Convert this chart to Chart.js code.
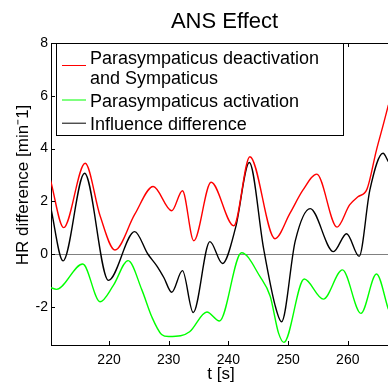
<!DOCTYPE html>
<html>
<head>
<meta charset="utf-8">
<script src="https://cdn.jsdelivr.net/npm/chart.js@4.4.1/dist/chart.umd.min.js"></script>
<style>
  html, body { margin: 0; padding: 0; overflow: hidden; background: #fff; }
  #wrap { width: 398px; height: 383px; }
</style>
</head>
<body>
<div id="wrap"><canvas id="ans"></canvas></div>
<script>
// values (t in s, HR difference in 1/min)
const redT = [210.2, 212.4, 216.0, 218.5, 221.0, 224.3, 227.4, 230.5, 232.3, 234.2, 237.1, 240.9, 243.6, 247.8, 250.3, 252.5, 254.8, 258.2, 260.3, 261.7, 263.2, 264.8, 266.0, 266.8];
const redV = [2.8, 1.0, 3.44, 1.45, 0.15, 1.5, 2.56, 1.64, 2.4, 0.5, 2.72, 1.07, 3.69, 0.58, 1.54, 2.43, 3.03, 1.02, 1.86, 2.17, 2.45, 3.94, 4.95, 5.65];

const blackT = [210.2, 212.3, 215.9, 219.9, 224.3, 226.5, 228.0, 229.2, 230.5, 232.3, 234.1, 236.9, 239.0, 241.2, 243.5, 245.9, 247.8, 248.9, 251.2, 253.7, 257.6, 259.8, 261.9, 263.7, 265.9, 266.8];
const blackV = [1.8, -0.26, 3.06, -1.0, 0.85, 0.0, -0.45, -0.9, -1.45, -0.63, -2.22, 0.47, -0.36, 1.0, 3.47, 0.2, -1.93, -2.57, 0.5, 1.72, 0.09, 0.77, -0.09, 2.43, 3.82, 3.5];

const greenT = [210.2, 211.2, 215.6, 218.5, 220.7, 223.2, 225.5, 227.2, 228.8, 230.0, 232.0, 233.5, 236.4, 238.5, 242.2, 245.3, 247.0, 248.4, 249.3, 252.7, 255.9, 259.1, 262.2, 264.8, 266.8];
const greenV = [-1.27, -1.34, -0.38, -1.81, -1.2, -0.25, -1.36, -2.4, -3.05, -3.13, -3.1, -2.95, -2.2, -2.54, 0.05, -0.86, -1.6, -3.0, -3.35, -0.95, -1.71, -0.6, -2.25, -0.76, -2.1];

const xTicks = [220, 230, 240, 250, 260];
const yTicks = [-2, 0, 2, 4, 6, 8];

const redLabel = ['Parasympaticus deactivation', 'and Sympaticus'];
const greenLabel = ['Parasympaticus activation'];
const blackLabel = ['Influence difference'];

const toPoints = (t, v) => t.map((x, i) => ({ x: x, y: v[i] }));

Chart.defaults.font.family = '"Liberation Sans", Arial, sans-serif';
Chart.defaults.color = '#000';

// MATLAB style box: top line, inward ticks, axis titles and the framed legend
const matlabBox = {
  id: 'matlabBox',
  afterDraw(chart) {
    const { ctx, chartArea: a, scales: { x, y } } = chart;
    ctx.save();
    ctx.strokeStyle = '#000';
    ctx.lineWidth = 1;
    ctx.beginPath();
    ctx.moveTo(a.left, a.top + 0.5);
    ctx.lineTo(a.right, a.top + 0.5);
    xTicks.forEach(v => {
      const px = Math.round(x.getPixelForValue(v)) + 0.5;
      ctx.moveTo(px, a.bottom);
      ctx.lineTo(px, a.bottom - 4);
      ctx.moveTo(px, a.top);
      ctx.lineTo(px, a.top + 4);
    });
    yTicks.forEach(v => {
      const py = Math.round(y.getPixelForValue(v)) + 0.5;
      ctx.moveTo(a.left, py);
      ctx.lineTo(a.left + 4, py);
    });
    ctx.stroke();

    // axis titles
    ctx.fillStyle = '#000';
    ctx.font = '17px "Liberation Sans", Arial, sans-serif';
    ctx.textAlign = 'center';
    ctx.textBaseline = 'alphabetic';
    ctx.fillText('t [s]', 221, 379);
    ctx.save();
    ctx.translate(28, 185);
    ctx.rotate(-Math.PI / 2);
    ctx.fillText('HR difference [min\u207B1]', 0, 0);
    ctx.restore();

    // legend
    const bx = a.left + 5, by = a.top + 0.5, bw = 287, bh = 92;
    ctx.fillStyle = '#fff';
    ctx.fillRect(bx, by, bw, bh);
    ctx.strokeRect(bx + 0.5, by, bw, bh);
    const entries = [
      { color: '#ff0000', text: redLabel, base: 20.3, mark: 22 },
      { color: '#00ff00', text: greenLabel, base: 63, mark: 56.5 },
      { color: '#000000', text: blackLabel, base: 86.3, mark: 79.7 }
    ];
    ctx.font = '18px "Liberation Sans", Arial, sans-serif';
    ctx.textAlign = 'left';
    entries.forEach(e => {
      ctx.strokeStyle = e.color;
      ctx.beginPath();
      ctx.moveTo(bx + 6, by + e.mark);
      ctx.lineTo(bx + 30, by + e.mark);
      ctx.stroke();
      ctx.fillStyle = '#000';
      e.text.forEach((line, i) => ctx.fillText(line, bx + 34, by + e.base + i * 19.7));
    });
    ctx.restore();
  }
};

new Chart(document.getElementById('ans'), {
  type: 'line',
  data: {
    datasets: [
      { label: redLabel.join(' '), data: toPoints(redT, redV), borderColor: '#ff0000' },
      { label: greenLabel[0], data: toPoints(greenT, greenV), borderColor: '#00ff00' },
      { label: blackLabel[0], data: toPoints(blackT, blackV), borderColor: '#000000' }
    ]
  },
  options: {
    animation: false,
    responsive: true,
    maintainAspectRatio: false,
    layout: { padding: 0 },
    elements: {
      point: { radius: 0 },
      line: { borderWidth: 1.4, cubicInterpolationMode: 'monotone', fill: false }
    },
    plugins: {
      legend: { display: false },
      tooltip: { enabled: false },
      title: {
        display: true,
        text: 'ANS Effect',
        fullSize: false,
        color: '#000',
        font: { size: 22, weight: 'normal' },
        padding: { top: 9, bottom: 7.6 }
      }
    },
    scales: {
      x: {
        type: 'linear',
        min: 210.28,
        max: 268.41,
        afterBuildTicks: s => { s.ticks = xTicks.map(v => ({ value: v })); },
        afterFit: s => { s.height = 38; },
        grid: { display: false, drawTicks: false },
        border: { color: '#000', width: 1 },
        ticks: { color: '#000', font: { size: 14 }, padding: 7, maxRotation: 0 }
      },
      y: {
        min: -3.45,
        max: 8,
        afterBuildTicks: s => { s.ticks = yTicks.map(v => ({ value: v })); },
        afterFit: s => { s.width = 51; },
        grid: {
          drawTicks: false,
          color: c => (c.tick && c.tick.value === 0 ? '#808080' : 'rgba(0,0,0,0)')
        },
        border: { color: '#000', width: 1 },
        ticks: { color: '#000', font: { size: 14 }, padding: 3 }
      }
    }
  },
  plugins: [matlabBox]
});
</script>
</body>
</html>
